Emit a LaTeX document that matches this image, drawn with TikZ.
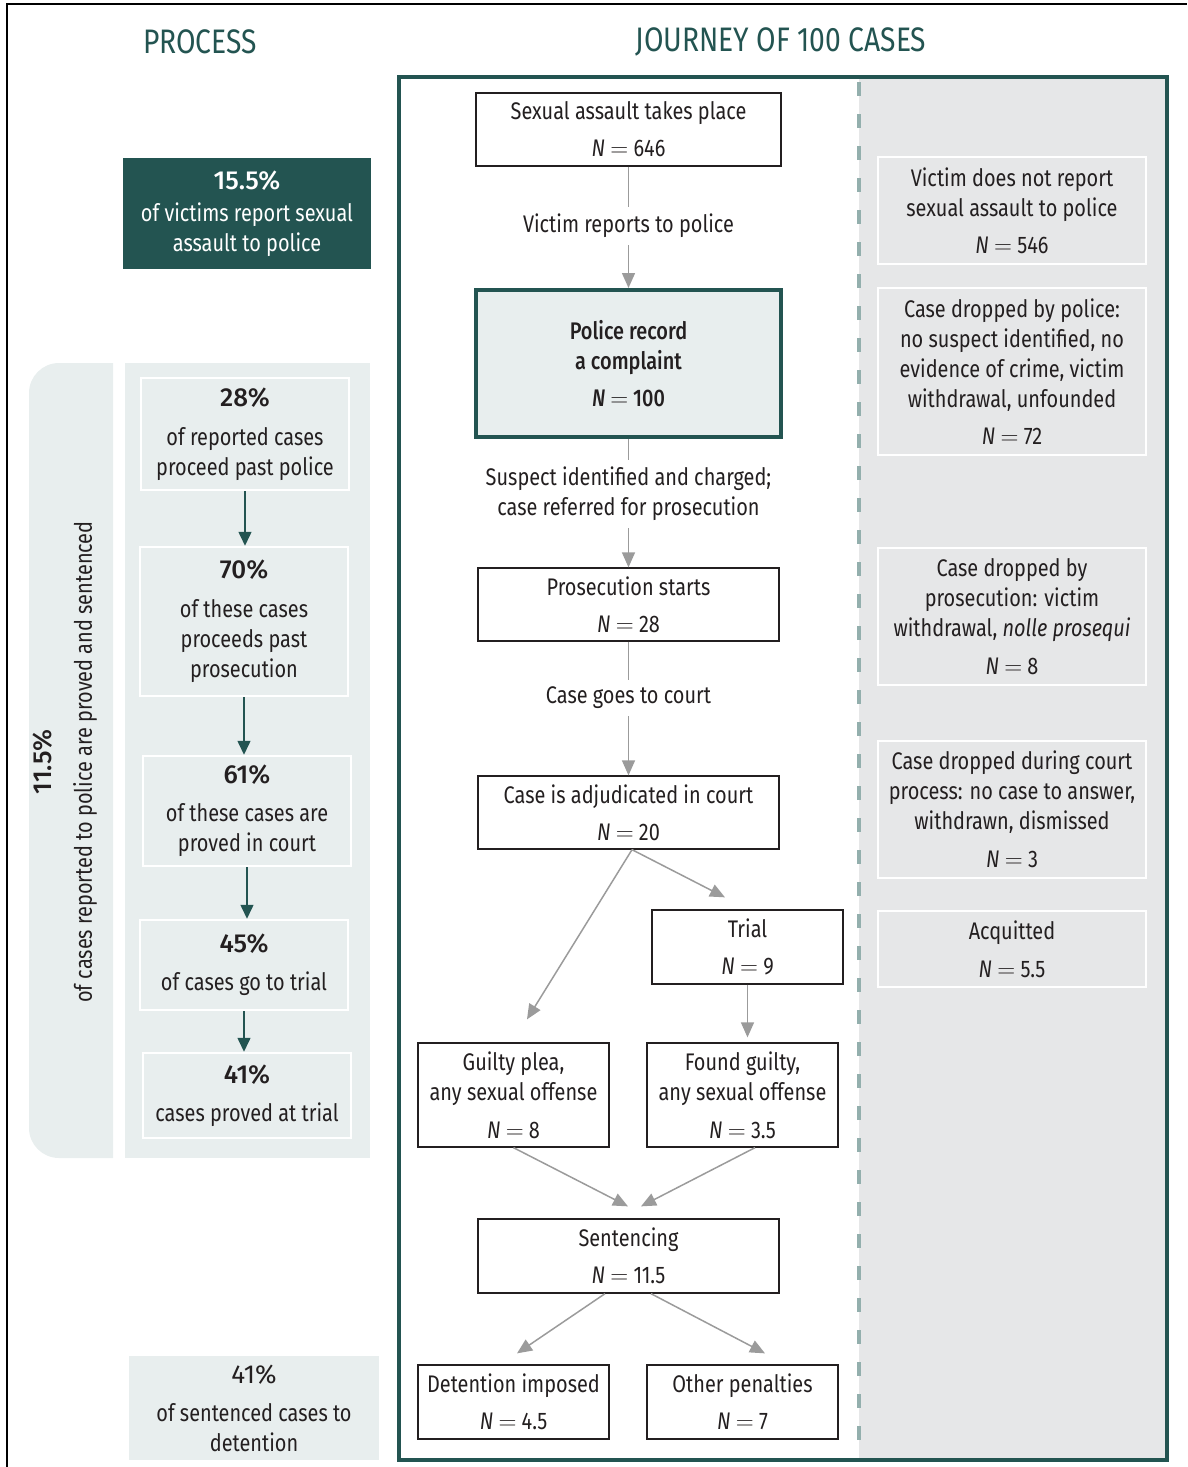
\documentclass[tikz,border=0pt]{standalone}
\usepackage{fontspec}
\setmainfont{Fira Sans}[FakeStretch=0.83, BoldFont={Fira Sans Medium}, BoldFeatures={FakeStretch=0.83}]
\newfontfamily\pctbold{Fira Sans Medium}
\newfontfamily\pctlight{Fira Sans}
\usepackage{tikz}
\usetikzlibrary{arrows.meta}

\definecolor{jteal}{RGB}{35,84,81}
\definecolor{jpale}{RGB}{232,238,238}
\definecolor{jgrey}{RGB}{230,231,232}
\definecolor{jdash}{RGB}{147,175,173}
\definecolor{jarrow}{RGB}{155,155,155}
\definecolor{jtext}{RGB}{35,31,32}

\newcommand{\nval}[1]{\textit{N}~$=$~#1}
\newcommand{\pct}[1]{{\fontsize{26}{30}\pctbold #1}}

\tikzset{
	stage/.style={draw=jtext, line width=1.3pt, fill=white, align=center, inner sep=0pt, text=jtext},
	dropbox/.style={draw=white, line width=2.5pt, fill=jgrey, minimum width=268pt, align=center, inner sep=0pt, text=jtext},
	pctbox/.style={draw=white, line width=2.5pt, fill=jpale, align=center, inner sep=0pt, text=jtext},
	steplabel/.style={align=center, inner sep=7pt, text=jtext},
	link/.style={draw=jarrow, line width=1.5pt},
	flow/.style={link, -{Triangle[length=15pt,width=13pt]}},
	pctflow/.style={draw=jteal, line width=1.5pt, -{Triangle[length=14pt,width=13pt]}},
	heading/.style={text=jteal, font=\fontsize{34}{38}\selectfont}
}

\begin{document}
\begin{tikzpicture}[x=1pt, y=-1pt, font=\fontsize{24}{30}\selectfont]
		\useasboundingbox (0,0) rectangle (1187,1467);

		% Outer frame and headings.
		\draw[line width=2pt] (7,1467) -- (7,4) -- (1187,4);
		\node[heading] (tproc) at (200,42) {PROCESS};
		\node[heading] (tjour) at (781,42) {JOURNEY OF 100 CASES};

		% Journey panel.
		\fill[jgrey] (859,77) rectangle (1167,1460);
		\draw[jdash, line width=4pt, dash pattern=on 14pt off 18pt] (859,82) -- (859,1456);
		\draw[jteal, line width=4pt] (399,77) rectangle (1167,1460);

		% Process panels.
		\fill[jpale] (113,363) -- (59,363) arc[start angle=90, end angle=180, radius=30pt]
			-- (29,1128) arc[start angle=180, end angle=270, radius=30pt] -- (113,1158) -- cycle;
		\fill[jpale] (125,363) rectangle (370,1158);
		\node[rotate=90, align=center, text=jtext] (ltot) at (65,762)
			{\pct{11.5\%}\\[10pt] of cases reported to police are proved and sentenced};

		\node[fill=jteal, text=white, align=center, inner sep=0pt, minimum width=248pt, minimum height=111pt] (rep) at (247,213.5)
			{\pct{15.5\%}\\[2pt] of victims report sexual\\ assault to police};

		\node[pctbox, minimum width=208pt, minimum height=112pt] (pa) at (245,434)
			{\pct{28\%}\\[9pt] of reported cases\\ proceed past police};
		\node[pctbox, minimum width=208pt, minimum height=149pt] (pb) at (244,621.5)
			{\pct{70\%}\\[9pt] of these cases\\ proceeds past\\ prosecution};
		\node[pctbox, minimum width=208pt, minimum height=110pt] (pc) at (247,811)
			{\pct{61\%}\\[8pt] of these cases are\\ proved in court};
		\node[pctbox, minimum width=208pt, minimum height=90pt] (pd) at (244,965)
			{\pct{45\%}\\[8pt] of cases go to trial};
		\node[pctbox, minimum width=208pt, minimum height=85pt] (pe) at (247,1095.5)
			{\pct{41\%}\\[8pt] cases proved at trial};
		\node[fill=jpale, text=jtext, align=center, inner sep=0pt, minimum width=250pt, minimum height=104pt] (pdet) at (254,1408)
			{{\fontsize{26}{30}\pctlight 41\%}\\[8pt] of sentenced cases to\\ detention};

		\draw[pctflow] (pa.south) -- (pa.south |- pb.north);
		\draw[pctflow] (pb.south) -- (pb.south |- pc.north);
		\draw[pctflow] (pc.south) -- (pc.south |- pd.north);
		\draw[pctflow] (pd.south) -- (pd.south |- pe.north);

		% Stages of the journey.
		\node[stage, minimum width=305pt, minimum height=73pt] (assault) at (628.5,129.5)
			{Sexual assault takes place\\[7pt] \nval{646}};
		\node[steplabel] (lblreport) at (628.5,226) {Victim reports to police};
		\node[stage, draw=jteal, line width=4pt, fill=jpale, minimum width=305pt, minimum height=147pt, font=\fontsize{24}{30}\selectfont\bfseries] (police) at (628.5,363.5)
			{Police record\\ a complaint\\[7pt] \nval{100}};
		\node[steplabel] (lblcharge) at (628.5,494) {Suspect identified and charged;\\ case referred for prosecution};
		\node[stage, minimum width=301pt, minimum height=73pt] (prosec) at (628.5,604.5)
			{Prosecution starts\\[7pt] \nval{28}};
		\node[steplabel] (lblcourt) at (628.5,698) {Case goes to court};
		\node[stage, minimum width=301pt, minimum height=73pt] (adjud) at (628.5,812.5)
			{Case is adjudicated in court\\[7pt] \nval{20}};
		\node[stage, minimum width=191pt, minimum height=74pt] (trial) at (747.5,947)
			{Trial\\[7pt] \nval{9}};
		\node[stage, minimum width=191pt, minimum height=104pt] (guilty) at (513.5,1095)
			{Guilty plea,\\ any sexual offense\\[8pt] \nval{8}};
		\node[stage, minimum width=191pt, minimum height=104pt] (found) at (742.5,1095)
			{Found guilty,\\ any sexual offense\\[8pt] \nval{3.5}};
		\node[stage, minimum width=301pt, minimum height=74pt] (sentence) at (628.5,1256)
			{Sentencing\\[7pt] \nval{11.5}};
		\node[stage, minimum width=191pt, minimum height=74pt] (detain) at (513.5,1402)
			{Detention imposed\\[7pt] \nval{4.5}};
		\node[stage, minimum width=191pt, minimum height=74pt] (other) at (742.5,1402)
			{Other penalties\\[7pt] \nval{7}};

		\draw[link] (assault) -- (lblreport);
		\draw[flow] (lblreport) -- (police);
		\draw[link] (police) -- (lblcharge);
		\draw[flow] (lblcharge) -- (prosec);
		\draw[link] (prosec) -- (lblcourt);
		\draw[flow] (lblcourt) -- (adjud);
		\draw[flow] ([xshift=3.5pt]adjud.south) -- ([xshift=13.5pt,yshift=23pt]guilty.north);
		\draw[flow] ([xshift=3.5pt]adjud.south) -- ([xshift=-22.5pt,yshift=12pt]trial.north);
		\draw[flow, shorten >=5pt] (trial.south) -- (trial.south |- found.north);
		\draw[flow] (guilty.south) -- ([xshift=-0.5pt,yshift=12pt]sentence.north);
		\draw[flow] ([xshift=12.5pt]found.south) -- ([xshift=12.5pt,yshift=12pt]sentence.north);
		\draw[flow] ([xshift=-23.5pt]sentence.south) -- ([xshift=3.5pt,yshift=11pt]detain.north);
		\draw[flow] ([xshift=22.5pt]sentence.south) -- ([xshift=22.5pt,yshift=11pt]other.north);

		% Cases dropped along the way.
		\node[dropbox, minimum height=107pt] (nreport) at (1012,210.5)
			{Victim does not report\\ sexual assault to police\\[7pt] \nval{546}};
		\node[dropbox, minimum height=167pt] (dpolice) at (1012,371.5)
			{Case dropped by police:\\ no suspect identified, no\\ evidence of crime, victim\\ withdrawal, unfounded\\[7pt] \nval{72}};
		\node[dropbox, minimum height=137pt] (dprosec) at (1012,616.5)
			{Case dropped by\\ prosecution: victim\\ withdrawal, \textit{nolle prosequi}\\[8pt] \nval{8}};
		\node[dropbox, minimum height=137pt] (dcourt) at (1012,809.5)
			{Case dropped during court\\ process: no case to answer,\\ withdrawn, dismissed\\[8pt] \nval{3}};
		\node[dropbox, minimum height=76pt] (acquit) at (1012,949)
			{Acquitted\\[8pt] \nval{5.5}};

\end{tikzpicture}
\end{document}
